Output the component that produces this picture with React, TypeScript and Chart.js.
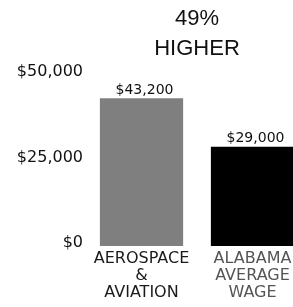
import React, { useEffect, useRef } from "react";
import { Chart, registerables } from "chart.js";

Chart.register(...registerables);

const categories: string[][] = [
  ["AEROSPACE", "&", "AVIATION"],
  ["ALABAMA", "AVERAGE", "WAGE"],
];
const wages: number[] = [43200, 29000];
const barColors: string[] = ["#7f7f7f", "#000000"];
const labelColors: string[] = ["#1a1a1a", "#555555"];
const yMin = 0;
const yMax = 50000;
const yStep = 25000;
const titleLines: string[] = ["49%", "HIGHER"];

const fmt = (v: number) => "$" + v.toLocaleString("en-US");
const FONT = "'DejaVu Sans', Verdana, sans-serif";

const valueLabelPlugin = {
  id: "valueLabels",
  afterDatasetsDraw(chart: any) {
    const ctx = chart.ctx;
    const meta = chart.getDatasetMeta(0);
    ctx.save();
    ctx.font = "14px " + FONT;
    ctx.fillStyle = "#111";
    ctx.textAlign = "center";
    ctx.textBaseline = "bottom";
    meta.data.forEach((bar: any, i: number) => {
      ctx.fillText(fmt(wages[i]), bar.x + 3, bar.y - 1);
    });
    ctx.restore();
  },
};

const titlePlugin = {
  id: "customTitle",
  afterDraw(chart: any) {
    const ctx = chart.ctx;
    const area = chart.chartArea;
    const cx = (area.left + area.right) / 2;
    ctx.save();
    ctx.font = "22px 'Liberation Sans', Arial, sans-serif";
    ctx.fillStyle = "#111";
    ctx.textAlign = "center";
    ctx.textBaseline = "middle";
    titleLines.forEach((t, i) => {
      ctx.fillText(t, cx, 19 + i * 30);
    });
    ctx.restore();
  },
};

export default function App() {
  const ref = useRef<HTMLCanvasElement | null>(null);
  useEffect(() => {
    if (!ref.current) return;
    const chart = new Chart(ref.current, {
      type: "bar",
      data: {
        labels: categories,
        datasets: [
          {
            data: wages,
            backgroundColor: barColors,
            borderWidth: 0,
            categoryPercentage: 1,
            barPercentage: 0.75,
          },
        ],
      },
      options: {
        animation: false,
        responsive: true,
        maintainAspectRatio: false,
        layout: { padding: { top: 75, left: 0, right: 0, bottom: 0 } },
        plugins: {
          legend: { display: false },
          title: { display: false },
          tooltip: { enabled: false },
        },
        scales: {
          x: {
            grid: { display: false, drawTicks: false },
            border: { display: false },
            afterFit(scale: any) {
              scale.height = 61;
            },
            ticks: {
              padding: 4,
              maxRotation: 0,
              autoSkip: false,
              color: labelColors,
              font: { family: FONT, size: 16, lineHeight: 17 / 16 },
            },
          },
          y: {
            min: yMin,
            max: yMax,
            grid: { display: false, drawTicks: false },
            border: { display: false },
            afterFit(scale: any) {
              scale.width = 86;
            },
            ticks: {
              stepSize: yStep,
              padding: 3,
              labelOffset: -3,
              crossAlign: "near",
              color: "#111",
              font: { family: FONT, size: 16 },
              callback: (v: any) => fmt(Number(v)),
            },
          },
        },
      },
      plugins: [valueLabelPlugin, titlePlugin],
    });
    return () => chart.destroy();
  }, []);
  return (
    <div
      style={{
        position: "fixed",
        left: 0,
        top: 0,
        width: 293,
        height: 307,
        overflow: "hidden",
        background: "#fff",
      }}
    >
      <div style={{ position: "relative", width: 308, height: 307 }}>
        <canvas ref={ref} />
      </div>
    </div>
  );
}
